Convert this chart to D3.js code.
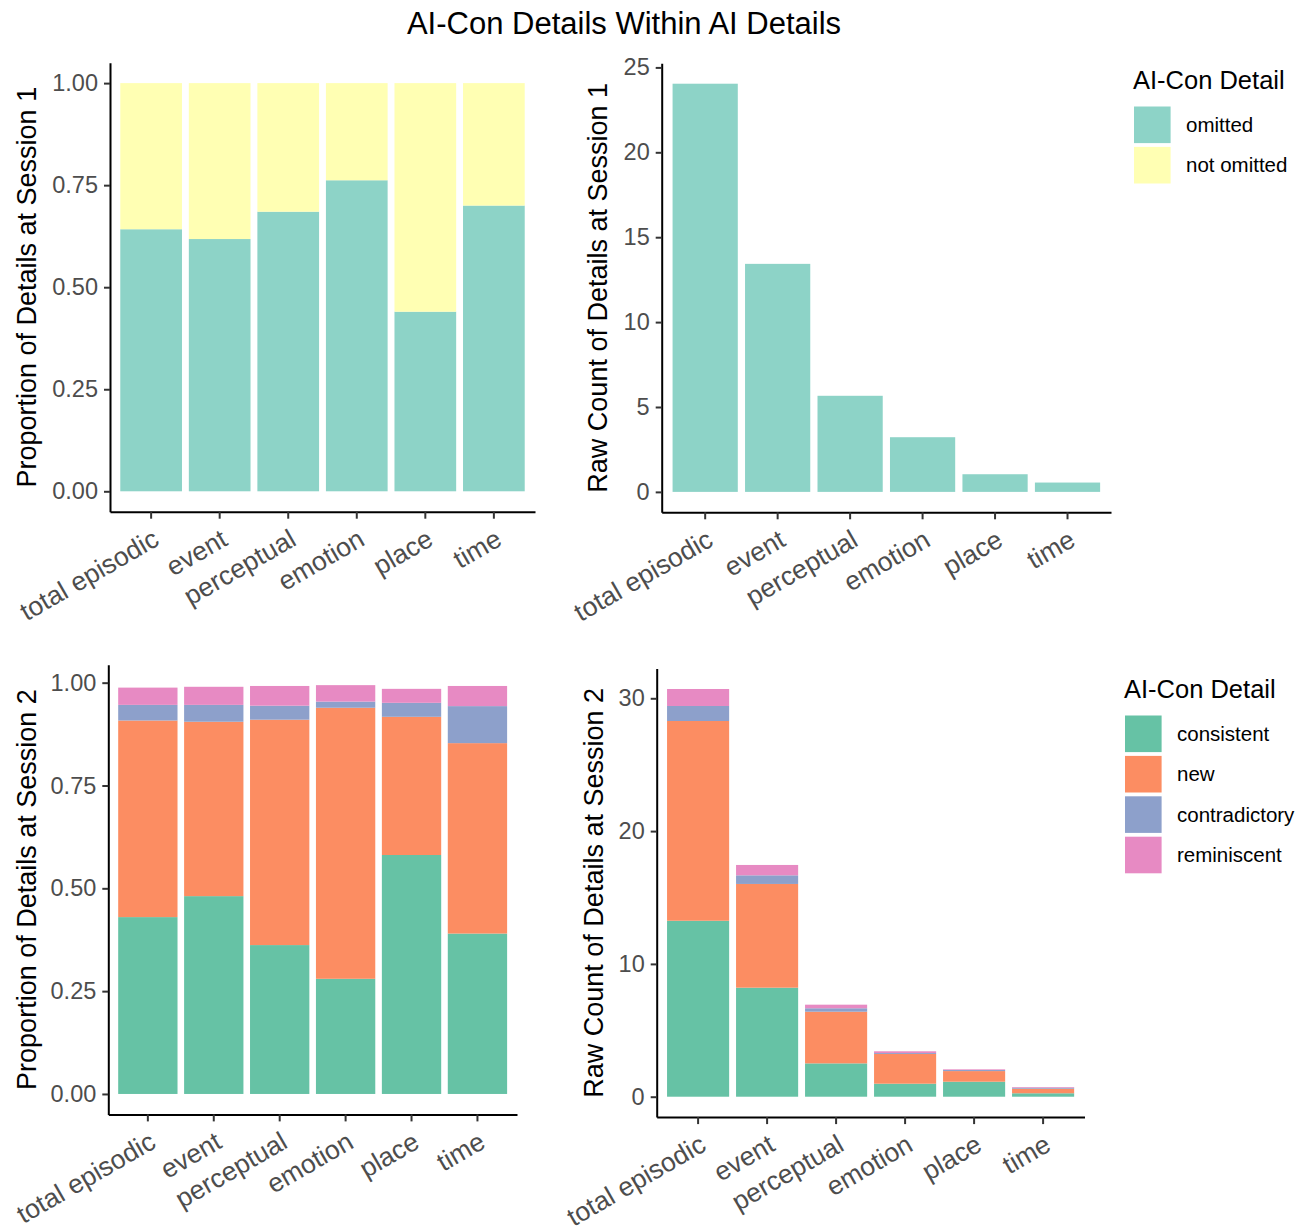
<!DOCTYPE html>
<html>
<head>
<meta charset="utf-8">
<script src="https://cdn.jsdelivr.net/npm/d3@7"></script>
<style>
  html, body { margin: 0; padding: 0; background: #ffffff; }
  svg { display: block; font-family: "Liberation Sans", Arial, sans-serif; }
</style>
</head>
<body>
<svg id="chart" width="1307" height="1231"></svg>
<script>
// Detail categories shown along every x axis
const categories = ["total episodic", "event", "perceptual", "emotion", "place", "time"];

// Session 1: proportion of AI details that were omitted / not omitted
const s1Omitted    = [0.642, 0.618, 0.685, 0.762, 0.440, 0.700];
const s1NotOmitted = [0.358, 0.382, 0.315, 0.238, 0.560, 0.300];

// Session 1: raw count of omitted AI-Con details
const s1CountOmitted = [24.04, 13.43, 5.66, 3.22, 1.04, 0.55];

// Session 2: proportion of details by AI-Con type
const s2PropConsistent    = [0.430, 0.481, 0.362, 0.280, 0.581, 0.390];
const s2PropNew           = [0.478, 0.424, 0.548, 0.659, 0.336, 0.463];
const s2PropContradictory = [0.038, 0.041, 0.034, 0.015, 0.034, 0.090];
const s2PropReminiscent   = [0.042, 0.044, 0.048, 0.040, 0.034, 0.049];

// Session 2: raw count of details by AI-Con type
const s2CountConsistent    = [13.25, 8.21, 2.51, 0.98, 1.13, 0.26];
const s2CountNew           = [15.04, 7.81, 3.89, 2.24, 0.80, 0.34];
const s2CountContradictory = [1.13, 0.65, 0.26, 0.07, 0.08, 0.08];
const s2CountReminiscent   = [1.28, 0.78, 0.27, 0.13, 0.05, 0.05];

// Legend entries and tick values
const s1Keys = ["omitted", "not omitted"];
const s2Keys = ["consistent", "new", "contradictory", "reminiscent"];
const propTicks = [0, 0.25, 0.5, 0.75, 1];
const s1CountTicks = [0, 5, 10, 15, 20, 25];
const s2CountTicks = [0, 10, 20, 30];

const s1Colors = d3.scaleOrdinal().domain(s1Keys).range(["#8DD3C7", "#FFFFB3"]);
const s2Colors = d3.scaleOrdinal().domain(s2Keys).range(["#66C2A5", "#FC8D62", "#8DA0CB", "#E78AC3"]);

const svg = d3.select("#chart");
const Y_TICK_FONT = 23.5, X_TICK_FONT = 26.5, TITLE_FONT = 27;

function rows(keys, series) {
  return categories.map((c, i) => {
    const r = { category: c };
    keys.forEach((k, j) => { r[k] = series[j][i]; });
    return r;
  });
}

function drawPanel(box, keys, series, colors, ticks, fmt, yTitle, titleX) {
  const data = rows(keys, series);
  const stacked = d3.stack().keys(keys)(data);
  const maxVal = d3.max(data, d => d3.sum(keys, k => d[k]));

  const x = d3.scaleBand().domain(categories)
    .range([box.left, box.right]).paddingInner(0.1).paddingOuter(0.15);
  const y = d3.scaleLinear().domain([-0.05 * maxVal, 1.05 * maxVal])
    .range([box.bottom, box.top]);

  const g = svg.append("g");

  g.selectAll("g.layer").data(stacked).join("g")
    .attr("class", "layer")
    .attr("fill", d => colors(d.key))
    .selectAll("rect").data(d => d).join("rect")
      .attr("x", d => x(d.data.category))
      .attr("width", x.bandwidth())
      .attr("y", d => y(d[1]))
      .attr("height", d => Math.max(0, y(d[0]) - y(d[1])));

  const yAxis = g.append("g")
    .attr("transform", `translate(${box.left},0)`)
    .call(d3.axisLeft(y).tickValues(ticks).tickFormat(d3.format(fmt))
      .tickSize(6).tickPadding(6).tickSizeOuter(0));
  const xAxis = g.append("g")
    .attr("transform", `translate(0,${box.bottom})`)
    .call(d3.axisBottom(x).tickSize(7).tickPadding(9).tickSizeOuter(0));

  [yAxis, xAxis].forEach(a => {
    a.select(".domain").attr("stroke", "#000").attr("stroke-width", 2);
    a.selectAll(".tick line").attr("stroke", "#333").attr("stroke-width", 2);
    a.selectAll(".tick text").attr("fill", "#4D4D4D")
      .style("font-family", "Liberation Sans, Arial, sans-serif");
  });
  yAxis.selectAll(".tick text").style("font-size", Y_TICK_FONT + "px");

  xAxis.selectAll(".tick text")
    .style("font-size", X_TICK_FONT + "px")
    .attr("text-anchor", "end")
    .attr("dx", "0em")
    .attr("dy", "0.72em")
    .attr("transform", function () {
      const yy = +d3.select(this).attr("y");
      return `rotate(-30,0,${yy})`;
    });

  svg.append("text")
    .attr("transform", `translate(${titleX},${(box.top + box.bottom) / 2}) rotate(-90)`)
    .attr("text-anchor", "middle")
    .attr("dy", "0.35em")
    .style("font-size", TITLE_FONT + "px")
    .attr("fill", "#000")
    .text(yTitle);
}

function drawLegend(x0, y0, keys, colors) {
  const g = svg.append("g");
  g.append("text").attr("x", x0).attr("y", y0)
    .style("font-size", "25.5px").attr("fill", "#000").text("AI-Con Detail");
  const step = 40.4, size = 36.6;
  keys.forEach((k, i) => {
    const top = y0 + 17.5 + i * step;
    g.append("rect").attr("x", x0 + 1).attr("y", top)
      .attr("width", size).attr("height", size).attr("fill", colors(k));
    g.append("text").attr("x", x0 + 53).attr("y", top + size / 2)
      .attr("dy", "0.35em").style("font-size", "20.5px").attr("fill", "#000").text(k);
  });
}

// Overall title
svg.append("text").attr("x", 624).attr("y", 34).attr("text-anchor", "middle")
  .style("font-size", "31px").attr("fill", "#000")
  .text("AI-Con Details Within AI Details");

drawPanel({ left: 110, right: 535, top: 62.7, bottom: 511.7 },
  s1Keys, [s1Omitted, s1NotOmitted], s1Colors, propTicks, ".2f",
  "Proportion of Details at Session 1", 27);

drawPanel({ left: 661.7, right: 1111, top: 63.3, bottom: 512.3 },
  ["omitted"], [s1CountOmitted], s1Colors, s1CountTicks, "d",
  "Raw Count of Details at Session 1", 598);

drawPanel({ left: 108.3, right: 517, top: 664.7, bottom: 1114.4 },
  s2Keys, [s2PropConsistent, s2PropNew, s2PropContradictory, s2PropReminiscent],
  s2Colors, propTicks, ".2f", "Proportion of Details at Session 2", 27);

drawPanel({ left: 656.7, right: 1084.5, top: 668.6, bottom: 1117.1 },
  s2Keys, [s2CountConsistent, s2CountNew, s2CountContradictory, s2CountReminiscent],
  s2Colors, s2CountTicks, "d", "Raw Count of Details at Session 2", 594);

drawLegend(1133, 89, s1Keys, s1Colors);
drawLegend(1124, 698, s2Keys, s2Colors);
</script>
</body>
</html>
